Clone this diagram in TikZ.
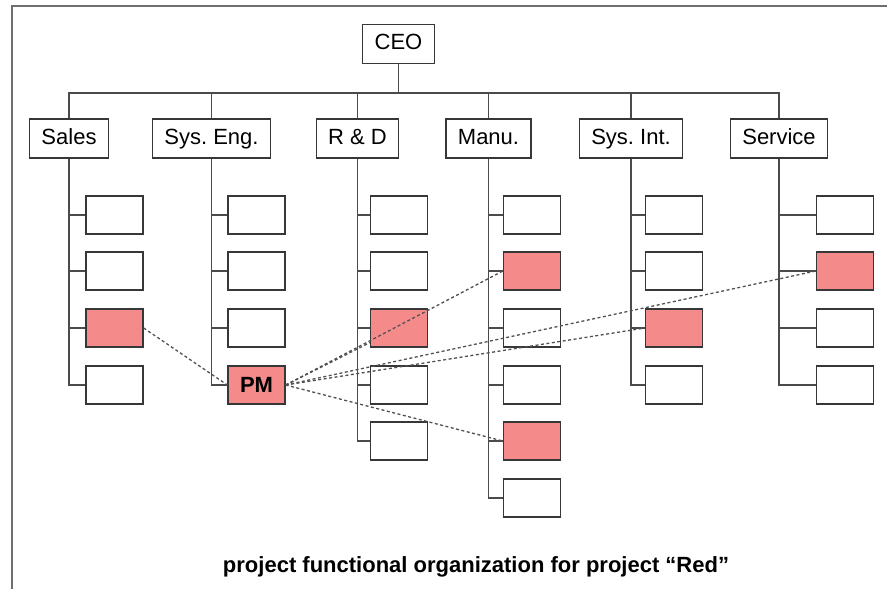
\documentclass[tikz,border=0pt]{standalone}
\usepackage{fontspec}
\setmainfont{Liberation Sans}
\definecolor{pmred}{RGB}{244,138,138}
\definecolor{boxline}{RGB}{55,55,55}
\definecolor{orgline}{RGB}{75,75,75}
\definecolor{linkgray}{RGB}{80,80,80}
\definecolor{framegray}{RGB}{110,110,110}

\begin{document}
\begin{tikzpicture}[x=10pt,y=-10pt,
    unit/.style={draw=boxline, line width=1.3pt, fill=white, inner xsep=12pt, inner ysep=0pt,
                 minimum height=39pt, text height=16pt, text depth=5pt, font=\fontsize{22}{26}\selectfont\frenchspacing},
    post/.style={draw=boxline, line width=1.3pt, fill=white, minimum width=57pt, minimum height=38pt, inner sep=0pt},
    hot/.style={post, fill=pmred},
    tie/.style={draw=orgline, line width=1.3pt},
    link/.style={draw=linkgray, line width=1.3pt, dash pattern=on 3pt off 2.5pt}]
	    \useasboundingbox (0,0) rectangle (88.7,58.9);
	    \draw[framegray, line width=2pt] (1.2,58.9) |- (88.7,0.6);

	    \node[unit] at (39.85,4.4) (ceo) {CEO};
	    \node[unit] at (6.9,13.85) (sales) {Sales};
	    \node[unit] at (21.15,13.85) (syseng) {Sys. Eng.};
	    \node[unit] at (35.75,13.85) (rd) {R \& D};
	    \node[unit] at (48.85,13.85) (manu) {Manu.};
	    \node[unit] at (63.1,13.85) (sysint) {Sys. Int.};
	    \node[unit] at (77.9,13.85) (serv) {Service};

	    \node[post] at (11.45,21.5) (s1) {};
	    \node[post] at (11.45,27.1) (s2) {};
	    \node[hot] at (11.45,32.8) (s3) {};
	    \node[post] at (11.45,38.5) (s4) {};

	    \node[post] at (25.65,21.5) (e1) {};
	    \node[post] at (25.65,27.1) (e2) {};
	    \node[post] at (25.65,32.8) (e3) {};
	    \node[hot, font=\fontsize{22}{26}\selectfont\bfseries] at (25.65,38.5) (pm) {PM};

	    \node[post] at (39.9,21.5) (r1) {};
	    \node[post] at (39.9,27.1) (r2) {};
	    \node[hot] at (39.9,32.8) (r3) {};
	    \node[post] at (39.9,38.5) (r4) {};
	    \node[post] at (39.9,44.1) (r5) {};

	    \node[post] at (53.2,21.5) (m1) {};
	    \node[hot] at (53.2,27.1) (m2) {};
	    \node[post] at (53.2,32.8) (m3) {};
	    \node[post] at (53.2,38.5) (m4) {};
	    \node[hot] at (53.2,44.1) (m5) {};
	    \node[post] at (53.2,49.8) (m6) {};

	    \node[post] at (67.4,21.5) (i1) {};
	    \node[post] at (67.4,27.1) (i2) {};
	    \node[hot] at (67.4,32.8) (i3) {};
	    \node[post] at (67.4,38.5) (i4) {};

	    \node[post] at (84.5,21.5) (v1) {};
	    \node[hot] at (84.5,27.1) (v2) {};
	    \node[post] at (84.5,32.8) (v3) {};
	    \node[post] at (84.5,38.5) (v4) {};

	    \node[font=\fontsize{22}{26}\selectfont\bfseries] at (47.6,56.7) (caption) {project functional organization for project ``Red''};

	    \coordinate (bus) at (39.85,9.3);
	    \draw[tie] (ceo) -- (bus);
	    \draw[tie] (sales) |- (bus) -| (serv);
	    \draw[tie] (syseng) -- (syseng |- bus);
	    \draw[tie] (rd) -- (rd |- bus);
	    \draw[tie] (manu) -- (manu |- bus);
	    \draw[tie] (sysint) -- (sysint |- bus);

	    \draw[tie] (sales) |- (s1) (sales) |- (s2) (sales) |- (s3) (sales) |- (s4);
	    \draw[tie] (syseng) |- (e1) (syseng) |- (e2) (syseng) |- (e3) (syseng) |- (pm);
	    \draw[tie] (rd) |- (r1) (rd) |- (r2) (rd) |- (r3) (rd) |- (r4) (rd) |- (r5);
	    \draw[tie] (manu) |- (m1) (manu) |- (m2) (manu) |- (m3) (manu) |- (m4) (manu) |- (m5) (manu) |- (m6);
	    \draw[tie] (sysint) |- (i1) (sysint) |- (i2) (sysint) |- (i3) (sysint) |- (i4);
	    \draw[tie] (serv) |- (v1) (serv) |- (v2) (serv) |- (v3) (serv) |- (v4);

	    \path[link] (s3.east) edge (pm.west);
	    \path[link] (pm.east) edge (r3);
	    \path[link] (pm.east) edge (m2.west);
	    \path[link] (pm.east) edge (m5.west);
	    \path[link] (pm.east) edge (i3.west);
	    \path[link] (pm.east) edge (v2.west);
\end{tikzpicture}
\end{document}
